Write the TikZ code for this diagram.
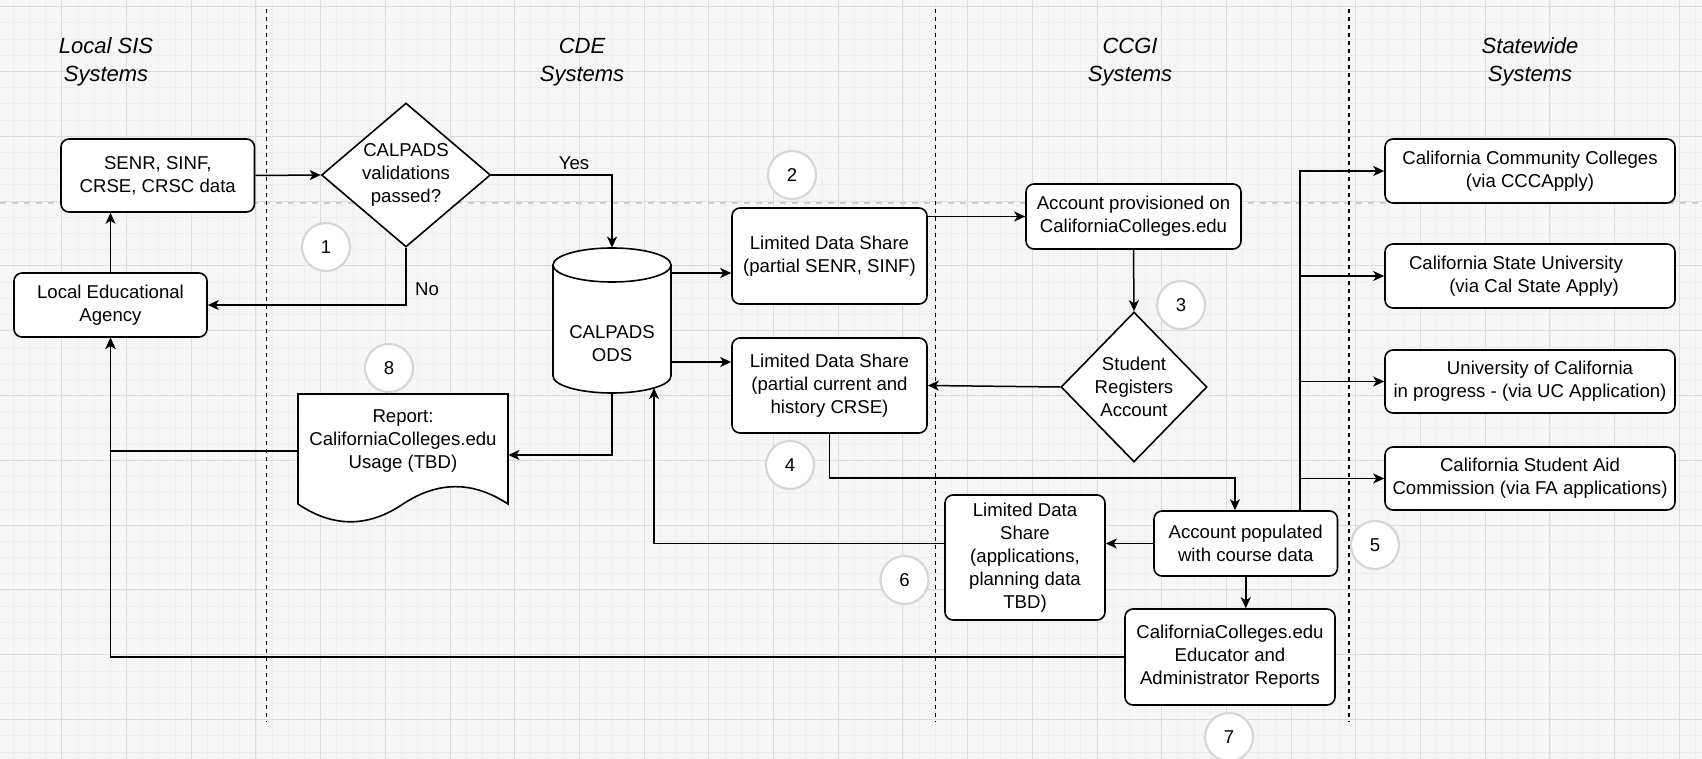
\documentclass[tikz,border=0pt]{standalone}
\usepackage{fontspec}
\setmainfont{Liberation Sans}
\usetikzlibrary{shapes.geometric,arrows.meta,calc}
\definecolor{bgc}{HTML}{F6F6F6}
\definecolor{gmin}{HTML}{EEEEEE}
\definecolor{gmaj}{HTML}{DDDDDD}
\definecolor{numc}{HTML}{D6D6D6}
\definecolor{pgbrk}{HTML}{CFCFCF}
\tikzset{
  txt/.style={font=\fontsize{9.3}{11.5}\selectfont, align=center},
  box/.style={draw, rounded corners=4pt, fill=white, line width=0.8pt, align=center, inner sep=0pt},
  dia/.style={diamond, draw, fill=white, line width=0.8pt, inner sep=0pt},
  arr/.style={line width=0.75pt, -{Stealth[length=5.5pt,width=5pt,inset=1.5pt]}},
  num/.style={circle, draw=numc, line width=1.1pt, fill=white, minimum size=24pt, inner sep=0pt},
  lane/.style={line width=0.7pt, dash pattern=on 2pt off 2pt},
  hdr/.style={font=\fontsize{11}{14}\selectfont\itshape, align=center},
}
\begin{document}
\begin{tikzpicture}[x=0.5pt,y=-0.5pt, every node/.style={txt}]
% background and grid
\fill[bgc] (0,0) rectangle (1702,759);
\useasboundingbox (0,0) rectangle (1702,759);
\foreach \i in {0,...,106} \draw[gmin, line width=0.4pt] ({-2.9+\i*16.175},0) -- ({-2.9+\i*16.175},759);
\foreach \i in {0,...,47} \draw[gmin, line width=0.4pt] (0,{-9.5+\i*16.2}) -- (1702,{-9.5+\i*16.2});
\foreach \i in {0,...,27} \draw[gmaj, line width=0.5pt] ({-2.9+\i*64.7},0) -- ({-2.9+\i*64.7},759);
\foreach \i in {0,...,11} \draw[gmaj, line width=0.5pt] (0,{6.7+\i*64.8}) -- (1702,{6.7+\i*64.8});
% page break line
\draw[pgbrk, line width=0.8pt, dash pattern=on 3pt off 3pt] (0,203) -- (1702,203);
% lanes
\draw[lane] (266.5,9) -- (266.5,722);
\draw[lane] (935.5,9) -- (935.5,722);
\draw[lane] (1349,9) -- (1349,722);
% headers
\node[hdr] (h1) at (106,62) {Local SIS\\Systems};
\node[hdr] (h2) at (582,62) {CDE\\Systems};
\node[hdr] (h3) at (1130,62) {CCGI\\Systems};
\node[hdr] (h4) at (1530,62) {Statewide\\Systems};

% nodes
\node[box, minimum width=96.75pt, minimum height=36.5pt] (senr) at (157.75,175.5) {SENR, SINF,\\CRSE, CRSC data};
\node[box, minimum width=96.5pt, minimum height=32pt] (lea) at (110.5,305) {Local Educational\\Agency};
\node[dia, minimum width=84.5pt, minimum height=72pt] (val) at (406,175) {};
\node (valt) at (val) {CALPADS\\validations\\passed?};

% cylinder
\node[minimum width=59pt, minimum height=72.5pt, inner sep=0pt] (cyl) at (612,320.5) {};
\draw[fill=white, line width=0.8pt] (553,265) -- (553,376)
  arc[start angle=180, end angle=360, x radius=29.5pt, y radius=8.5pt] -- (671,265)
  arc[start angle=0, end angle=180, x radius=29.5pt, y radius=8.5pt] -- cycle;
\draw[line width=0.8pt] (553,265) arc[start angle=180, end angle=360, x radius=29.5pt, y radius=8.5pt];
\node (cylt) at (612,344) {CALPADS\\ODS};

\node[box, minimum width=97.5pt, minimum height=48pt] (lds1) at (829.5,256) {Limited Data Share\\(partial SENR, SINF)};
\node[box, minimum width=97.5pt, minimum height=47.5pt] (lds2) at (829.5,385.5) {Limited Data Share\\(partial current and\\history CRSE)};
\node[box, minimum width=107.5pt, minimum height=32.5pt] (acct) at (1133.5,216.5) {Account provisioned on\\CaliforniaColleges.edu};
\node[dia, minimum width=73pt, minimum height=75pt] (stud) at (1134,387) {};
\node (studt) at (stud) {Student\\Registers\\Account};
\node[box, minimum width=91.75pt, minimum height=32.5pt] (ap) at (1245.75,543.5) {Account populated\\with course data};
\node[box, minimum width=80pt, minimum height=62.5pt] (lds3) at (1025,557.5) {Limited Data\\Share\\(applications,\\planning data\\TBD)};
\node[box, minimum width=105pt, minimum height=48pt] (rpt) at (1230,657) {CaliforniaColleges.edu\\Educator and\\Administrator Reports};

\node[box, minimum width=145pt, minimum height=32pt] (ccc) at (1530,171) {California Community Colleges\\(via CCCApply)};
\node[box, minimum width=145pt, minimum height=32pt] (csu) at (1530,276) {California State University\hspace*{14pt}\\\hspace*{4pt}(via Cal State Apply)};
\node[box, minimum width=145pt, minimum height=31.5pt] (uc) at (1530,381.5) {\hspace*{10pt}University of California\\in progress - (via UC Application)};
\node[box, minimum width=145pt, minimum height=31.5pt] (csac) at (1530,478.5) {California Student Aid\\Commission (via FA applications)};

% report document
\node[minimum width=105pt, minimum height=65pt, inner sep=0pt] (rep) at (403,459) {};
\draw[fill=white, line width=0.8pt] (298,394) -- (508,394) -- (508,504)
  .. controls (473,480.9) and (438,480.9) .. (403,504)
  .. controls (368,527.7) and (333,527.7) .. (298,504) -- cycle;
\node (rept) at (403,441) {Report:\\CaliforniaColleges.edu\\Usage (TBD)};

% numbered circles
\node[num] (n1) at (326,247) {1};
\node[num] (n2) at (792,175) {2};
\node[num] (n3) at (1181,305) {3};
\node[num] (n4) at (790,465) {4};
\node[num] (n5) at (1375,545) {5};
\node[num] (n6) at (904.5,580) {6};
\node[num] (n7) at (1229,737) {7};
\node[num] (n8) at (389,368) {8};

% connectors
\coordinate (cylb) at (654,388);
\draw[arr] (lea.north) -- (lea.north |- senr.south);
\draw[arr] (senr.east) -- (val.west);
\draw[arr] (val.south) |- (lea.east);
\node (no) at (427,289) {No};
\draw[arr] (val.east) -| (cyl.north);
\node (yes) at (574,163) {Yes};
\draw[arr] (cyl.east |- 0,273) -- (lds1.west |- 0,273);
\draw[arr] (cyl.east |- 0,362) -- (lds2.west |- 0,362);
\draw[arr] (lds1.east |- acct.west) -- (acct.west);
\draw[arr] (acct.south) -- (stud.north);
\draw[arr] (stud.west) -- (lds2.east);
\draw[arr] (lds2.south) |- ([xshift=-5.4pt,yshift=16pt]ap.north) -- ([xshift=-5.4pt]ap.north);
\draw[arr] ([xshift=27.1pt]ap.north) |- (ccc.west);
\draw[arr] ([xshift=27.1pt]ap.north) |- (csu.west);
\draw[arr] ([xshift=27.1pt]ap.north) |- (uc.west);
\draw[arr] ([xshift=27.1pt]ap.north) |- (csac.west);
\draw[arr] (ap.west) -- (ap.west -| lds3.east);
\draw[arr] (lds3.west |- ap.west) -| (cylb);
\draw[arr] (ap.south) -- (ap.south |- rpt.north);
\draw[arr] (cyl.south) |- (rep.east |- 0,455);
\draw[arr] (rep.west |- 0,451) -| (lea.south);
\draw[arr] (rpt.west) -| (lea.south);
\end{tikzpicture}
\end{document}
